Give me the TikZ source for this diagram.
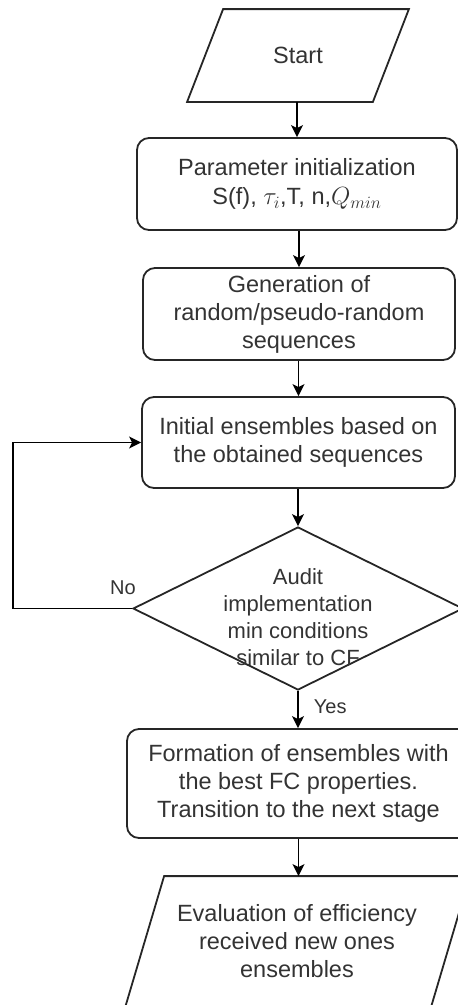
\documentclass[tikz,border=0pt]{standalone}
\usepackage{fontspec}
\setmainfont{Liberation Sans}
\usetikzlibrary{arrows.meta,shapes.geometric,calc}
\begin{document}
\begin{tikzpicture}[x=1pt,y=-1pt,
  line width=1.8pt,
  txt/.style={align=center, text=black!80, font=\fontsize{23.5}{28}\selectfont, inner sep=0pt},
  box/.style={txt, draw=black!85, rounded corners=12pt},
  arr/.style={draw=black, -{Stealth[length=12pt,width=12pt,inset=3pt]}},
  lbl/.style={text=black!80, font=\fontsize{20}{23}\selectfont, inner sep=0pt}
]
\useasboundingbox (0,0) rectangle (458,1005);
% Start
\node[txt, minimum width=184, minimum height=91] (start) at (298,55.5) {Start};
\draw[draw=black!85] ([xshift=18]start.north west) -- ([xshift=18]start.north east)
  -- ([xshift=-18]start.south east) -- ([xshift=-18]start.south west) -- cycle;
% Box 1
\node[box, minimum width=320, minimum height=92] (p1) at (297,184)
  {Parameter initialization\\[1pt]S(f), {\fontsize{27}{28}\selectfont$\tau_i$},T, n,{\fontsize{27}{28}\selectfont$Q_{min}$}};
% Box 2
\node[box, minimum width=312, minimum height=92] (p2) at (299,314)
  {Generation of\\random/pseudo-random\\sequences};
% Box 3
\node[box, minimum width=313, minimum height=91] (p3) at (298.5,442.5)
  {Initial ensembles based on\\the obtained sequences};
% Diamond
\node[diamond, draw=black!85, minimum width=330, minimum height=163, inner sep=0pt] (audit) at (298,608.5) {};
\node[txt, font=\fontsize{22}{27}\selectfont] (audittxt) at (298,617)
  {Audit\\implementation\\min conditions\\similar to CF};
% Box 4
\node[box, minimum width=343, minimum height=109] (p4) at (298.5,783.5)
  {Formation of ensembles with\\the best FC properties.\\Transition to the next stage};
% End
\node[txt, minimum width=304, minimum height=133] (fin) at (297,943.5) {};
\draw[draw=black!85] ([xshift=20]fin.north west) -- ([xshift=20]fin.north east)
  -- ([xshift=-20]fin.south east) -- ([xshift=-20]fin.south west) -- cycle;
\node[txt] (fintxt) at (297,941) {Evaluation of efficiency\\received new ones\\ensembles};
% connectors
\draw[arr] (start.south -| p1.north) -- (p1.north);
\draw[arr] (p1.south -| p2.north) -- (p2.north);
\draw[arr] (p2.south -| p3.north) -- (p3.north);
\draw[arr] (p3.south -| audit.north) -- (audit.north);
\draw[arr] (audit.south) -- (audit.south |- p4.north);
\draw[arr] (p4.south) -- (p4.south |- fin.north);
\coordinate (loopc) at (13,608.5);
\draw[arr] (audit.west) -- (loopc) -- (loopc |- p3.west) -- (p3.west);
\node[lbl] (no) at (123,588) {No};
\node[lbl, anchor=west] (yes) at (313,707) {Yes};
\end{tikzpicture}
\end{document}
